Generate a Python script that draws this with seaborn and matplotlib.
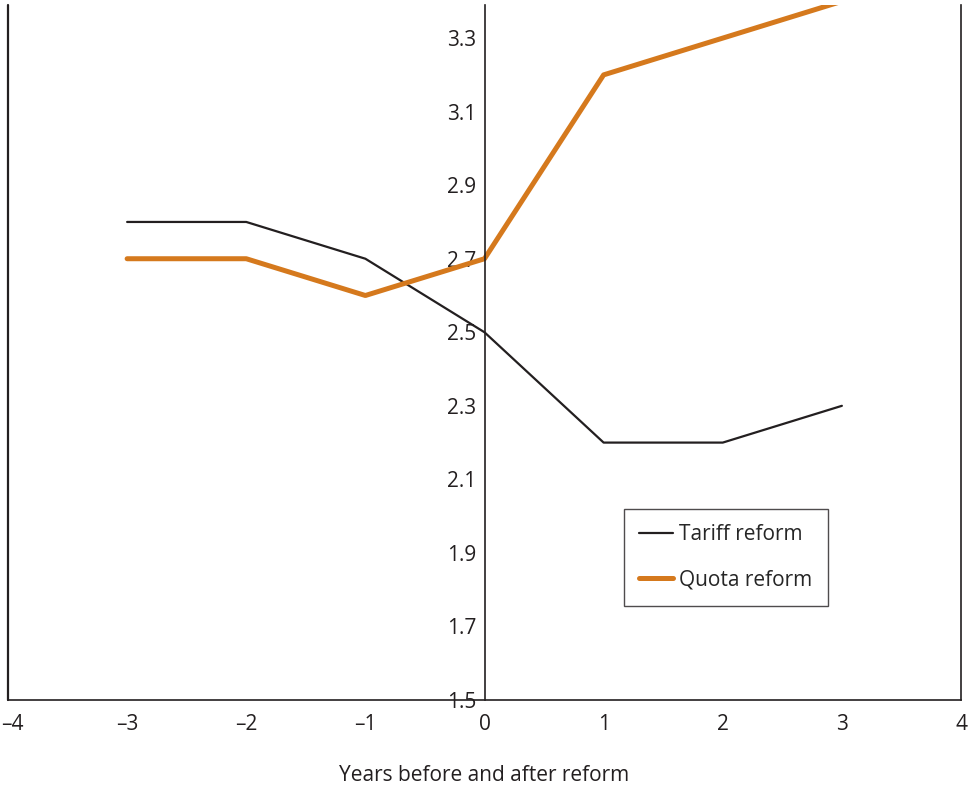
import pandas as pd
import matplotlib
matplotlib.use("Agg")
import matplotlib.pyplot as plt
import matplotlib.transforms as mtransforms
import seaborn as sns

years = [-3, -2, -1, 0, 1, 2, 3]
tariff = [2.8, 2.8, 2.7, 2.5, 2.2, 2.2, 2.3]
quota = [2.7, 2.7, 2.6, 2.7, 3.2, 3.3, 3.4]
series_names = ["Tariff reform", "Quota reform"]
y_ticks = [1.5, 1.7, 1.9, 2.1, 2.3, 2.5, 2.7, 2.9, 3.1, 3.3]
x_ticks = [-4, -3, -2, -1, 0, 1, 2, 3, 4]

sns.set_style("white")
plt.rcParams["font.family"] = ["Open Sans", "DejaVu Sans"]

df = pd.DataFrame({
    "year": years * 2,
    "value": tariff + quota,
    "series": [series_names[0]] * len(years) + [series_names[1]] * len(years),
})

fig = plt.figure(figsize=(9.68, 7.85), dpi=100)
ax = fig.add_axes([8 / 968, 85 / 785, 953 / 968, 695 / 785])

sns.lineplot(data=df, x="year", y="value", hue="series", size="series",
             sizes={series_names[0]: 1.6, series_names[1]: 3.6},
             palette={series_names[0]: "#231f20", series_names[1]: "#d5791d"},
             ax=ax)

ax.set_xlim(-4, 4)
ax.set_ylim(1.5, 3.39)
ax.set_xticks(x_ticks)
ax.set_xticklabels([f"{t}".replace("-", "\u2013") for t in x_ticks])
ax.set_yticks(y_ticks)
ax.set_yticklabels([f"{t:.1f}" for t in y_ticks])

# y axis drawn through zero, box lines at the ends
ax.spines["left"].set_position(("data", 0))
ax.spines["top"].set_visible(False)
for s in ["left", "right", "bottom"]:
    ax.spines[s].set_color("#231f20")
    ax.spines[s].set_linewidth(1.2)
ax.axvline(-4, color="#231f20", lw=1.6, clip_on=False)

ax.tick_params(axis="x", direction="in", length=5, width=1, pad=10,
               labelsize=15, colors="#231f20")
ax.tick_params(axis="y", direction="out", length=4, width=1, pad=2,
               labelsize=15, colors="#231f20")

# first x label sits a bit inside the figure edge
first = ax.get_xticklabels()[0]
first.set_transform(first.get_transform() +
                    mtransforms.ScaledTranslation(4 / 100, 0, fig.dpi_scale_trans))

ax.set_xlabel("Years before and after reform", fontsize=15, color="#231f20",
              labelpad=22)
ax.set_ylabel("")

handles, labels = ax.get_legend_handles_labels()
leg = ax.legend(handles, labels, loc="upper left", bbox_to_anchor=(0.646, 0.275),
                frameon=True, fancybox=False, fontsize=15, handlelength=1.6,
                handletextpad=0.3, borderpad=0.75, labelspacing=1.15,
                borderaxespad=0)
leg.get_frame().set_edgecolor("#231f20")
leg.get_frame().set_linewidth(1)

fig.savefig("out.png", dpi=100)
